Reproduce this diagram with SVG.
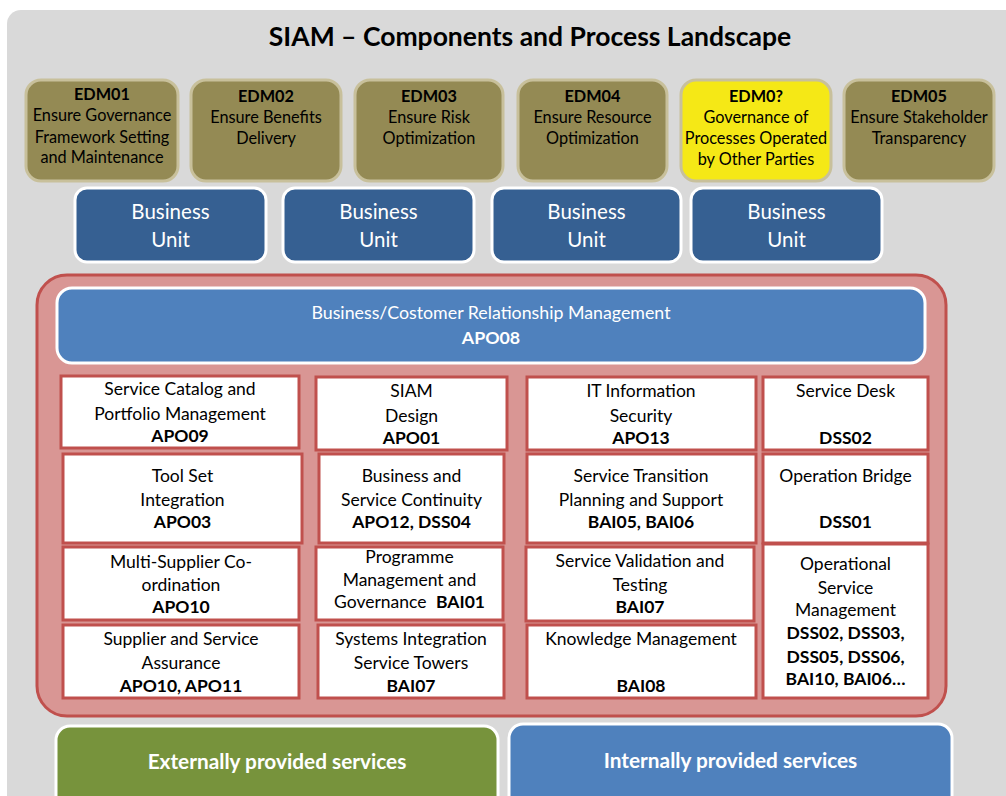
<svg xmlns="http://www.w3.org/2000/svg" width="1006" height="796" viewBox="0 0 1006 796">
<style>
text{font-family:Lato,"Open Sans","Liberation Sans",sans-serif;text-anchor:middle}
.edm{fill:#948a54;stroke:#c8c09b;stroke-width:3}
.edmy{fill:#f5e816;stroke:#c8c09b;stroke-width:3}
.et{font-size:16.3px;fill:#000}
.bu{fill:#366092;stroke:#fff;stroke-width:3}
.but{font-size:20.5px;fill:#fff}
.box{fill:#fff;stroke:#c0504d;stroke-width:3}
.bt{font-size:17.5px;fill:#000}
.b{font-weight:bold}
</style>
<rect x="7" y="10" width="1020" height="800" rx="14" fill="#d9d9d9"/>
<text x="530" y="46" font-size="26.5" font-weight="bold" fill="#000">SIAM – Components and Process Landscape</text>

<g id="edm01"><rect class="edm" x="26" y="80" width="152" height="101" rx="15"/>
<text class="et" x="102" y="100"><tspan class="b">EDM01</tspan><tspan x="102" y="121">Ensure Governance</tspan><tspan x="102" y="143">Framework Setting</tspan><tspan x="102" y="163">and Maintenance</tspan></text></g>
<g id="edm02"><rect class="edm" x="191" y="80" width="150" height="101" rx="15"/>
<text class="et" x="266" y="102"><tspan class="b">EDM02</tspan><tspan x="266" y="123">Ensure Benefits</tspan><tspan x="266" y="144">Delivery</tspan></text></g>
<g id="edm03"><rect class="edm" x="355" y="80" width="148" height="101" rx="15"/>
<text class="et" x="429" y="102"><tspan class="b">EDM03</tspan><tspan x="429" y="123">Ensure Risk</tspan><tspan x="429" y="144">Optimization</tspan></text></g>
<g id="edm04"><rect class="edm" x="518" y="80" width="149" height="101" rx="15"/>
<text class="et" x="592.5" y="102"><tspan class="b">EDM04</tspan><tspan x="592.5" y="123">Ensure Resource</tspan><tspan x="592.5" y="144">Optimization</tspan></text></g>
<g id="edm0x"><rect class="edmy" x="681" y="80" width="150" height="101" rx="15"/>
<text class="et" x="756" y="102"><tspan class="b">EDM0?</tspan><tspan x="756" y="123">Governance of</tspan><tspan x="756" y="144">Processes Operated</tspan><tspan x="756" y="165">by Other Parties</tspan></text></g>
<g id="edm05"><rect class="edm" x="844" y="80" width="150" height="101" rx="15"/>
<text class="et" x="919" y="102"><tspan class="b">EDM05</tspan><tspan x="919" y="123">Ensure Stakeholder</tspan><tspan x="919" y="144">Transparency</tspan></text></g>

<g id="bu1"><rect class="bu" x="75" y="188" width="191" height="74" rx="12"/>
<text class="but" x="170.5" y="219"><tspan>Business</tspan><tspan x="170.5" y="247">Unit</tspan></text></g>
<g id="bu2"><rect class="bu" x="283" y="188" width="191" height="74" rx="12"/>
<text class="but" x="378.5" y="219"><tspan>Business</tspan><tspan x="378.5" y="247">Unit</tspan></text></g>
<g id="bu3"><rect class="bu" x="492" y="188" width="189" height="74" rx="12"/>
<text class="but" x="586.5" y="219"><tspan>Business</tspan><tspan x="586.5" y="247">Unit</tspan></text></g>
<g id="bu4"><rect class="bu" x="691" y="188" width="191" height="74" rx="12"/>
<text class="but" x="786.5" y="219"><tspan>Business</tspan><tspan x="786.5" y="247">Unit</tspan></text></g>

<g id="container"><rect x="37" y="275" width="909" height="441" rx="30" fill="#d99694" stroke="#c0504d" stroke-width="3"/></g>

<g id="apo08"><rect x="57" y="288" width="868" height="75" rx="15" fill="#4f81bd" stroke="#fff" stroke-width="3"/>
<text x="491" y="319" font-size="17.8" fill="#fff"><tspan>Business/Costomer Relationship Management</tspan><tspan x="491" y="344" font-weight="bold">APO08</tspan></text></g>

<g id="apo09"><rect class="box" x="61" y="376" width="238" height="72"/>
<text class="bt" x="180" y="395"><tspan>Service Catalog and</tspan><tspan x="180" y="420">Portfolio Management</tspan><tspan x="180" y="442" class="b">APO09</tspan></text></g>
<g id="apo01"><rect class="box" x="316" y="377" width="191" height="73"/>
<text class="bt" x="411.5" y="397"><tspan>SIAM</tspan><tspan x="411.5" y="422">Design</tspan><tspan x="411.5" y="444" class="b">APO01</tspan></text></g>
<g id="apo13"><rect class="box" x="527" y="377" width="229" height="73"/>
<text class="bt" x="641" y="397"><tspan>IT Information</tspan><tspan x="641" y="422">Security</tspan><tspan x="641" y="444" class="b">APO13</tspan></text></g>
<g id="dss02"><rect class="box" x="763" y="377" width="165" height="73"/>
<text class="bt" x="845.5" y="397"><tspan>Service Desk</tspan><tspan x="845.5" y="444" class="b">DSS02</tspan></text></g>

<g id="apo03"><rect class="box" x="63" y="454" width="239" height="89"/>
<text class="bt" x="182.5" y="482"><tspan>Tool Set</tspan><tspan x="182.5" y="506">Integration</tspan><tspan x="182.5" y="528" class="b">APO03</tspan></text></g>
<g id="apo12"><rect class="box" x="319" y="454" width="185" height="89"/>
<text class="bt" x="411.5" y="482"><tspan>Business and</tspan><tspan x="411.5" y="506">Service Continuity</tspan><tspan x="411.5" y="528" class="b">APO12, DSS04</tspan></text></g>
<g id="bai05"><rect class="box" x="527" y="454" width="229" height="89"/>
<text class="bt" x="641" y="482"><tspan>Service Transition</tspan><tspan x="641" y="506">Planning and Support</tspan><tspan x="641" y="528" class="b">BAI05, BAI06</tspan></text></g>
<g id="dss01"><rect class="box" x="763" y="454" width="165" height="89"/>
<text class="bt" x="845.5" y="482"><tspan>Operation Bridge</tspan><tspan x="845.5" y="528" class="b">DSS01</tspan></text></g>

<g id="apo10"><rect class="box" x="63" y="547" width="236" height="73"/>
<text class="bt" x="181" y="568"><tspan>Multi-Supplier Co-</tspan><tspan x="181" y="591">ordination</tspan><tspan x="181" y="613" class="b">APO10</tspan></text></g>
<g id="bai01"><rect class="box" x="316" y="547" width="187" height="73"/>
<text class="bt" x="409.5" y="563"><tspan>Programme</tspan><tspan x="409.5" y="586">Management and</tspan><tspan x="409.5" y="608">Governance <tspan class="b" dx="5">BAI01</tspan></tspan></text></g>
<g id="bai07a"><rect class="box" x="526" y="547" width="228" height="74"/>
<text class="bt" x="640" y="567"><tspan>Service Validation and</tspan><tspan x="640" y="591">Testing</tspan><tspan x="640" y="613" class="b">BAI07</tspan></text></g>
<g id="osm"><rect class="box" x="763" y="544" width="165" height="154"/>
<text class="bt" x="845.5" y="570"><tspan>Operational</tspan><tspan x="845.5" y="594">Service</tspan><tspan x="845.5" y="616">Management</tspan><tspan x="845.5" y="639" class="b">DSS02, DSS03,</tspan><tspan x="845.5" y="663" class="b">DSS05, DSS06,</tspan><tspan x="845.5" y="685" class="b">BAI10, BAI06…</tspan></text></g>

<g id="apo11"><rect class="box" x="63" y="625" width="236" height="73"/>
<text class="bt" x="181" y="645"><tspan>Supplier and Service</tspan><tspan x="181" y="669">Assurance</tspan><tspan x="181" y="692" class="b">APO10, APO11</tspan></text></g>
<g id="bai07b"><rect class="box" x="318" y="625" width="186" height="73"/>
<text class="bt" x="411" y="645"><tspan>Systems Integration</tspan><tspan x="411" y="669">Service Towers</tspan><tspan x="411" y="692" class="b">BAI07</tspan></text></g>
<g id="bai08"><rect class="box" x="527" y="625" width="229" height="73"/>
<text class="bt" x="641" y="645"><tspan>Knowledge Management</tspan><tspan x="641" y="692" class="b">BAI08</tspan></text></g>

<g id="external"><rect x="56" y="726" width="442" height="90" rx="14" fill="#77933c" stroke="#fff" stroke-width="3"/>
<text x="277" y="769" font-size="20.8" font-weight="bold" fill="#fff">Externally provided services</text></g>
<g id="internal"><rect x="509" y="724" width="443" height="92" rx="14" fill="#4f81bd" stroke="#fff" stroke-width="3"/>
<text x="730.5" y="768" font-size="20.8" font-weight="bold" fill="#fff">Internally provided services</text></g>

<g id="connectors"/>
</svg>
